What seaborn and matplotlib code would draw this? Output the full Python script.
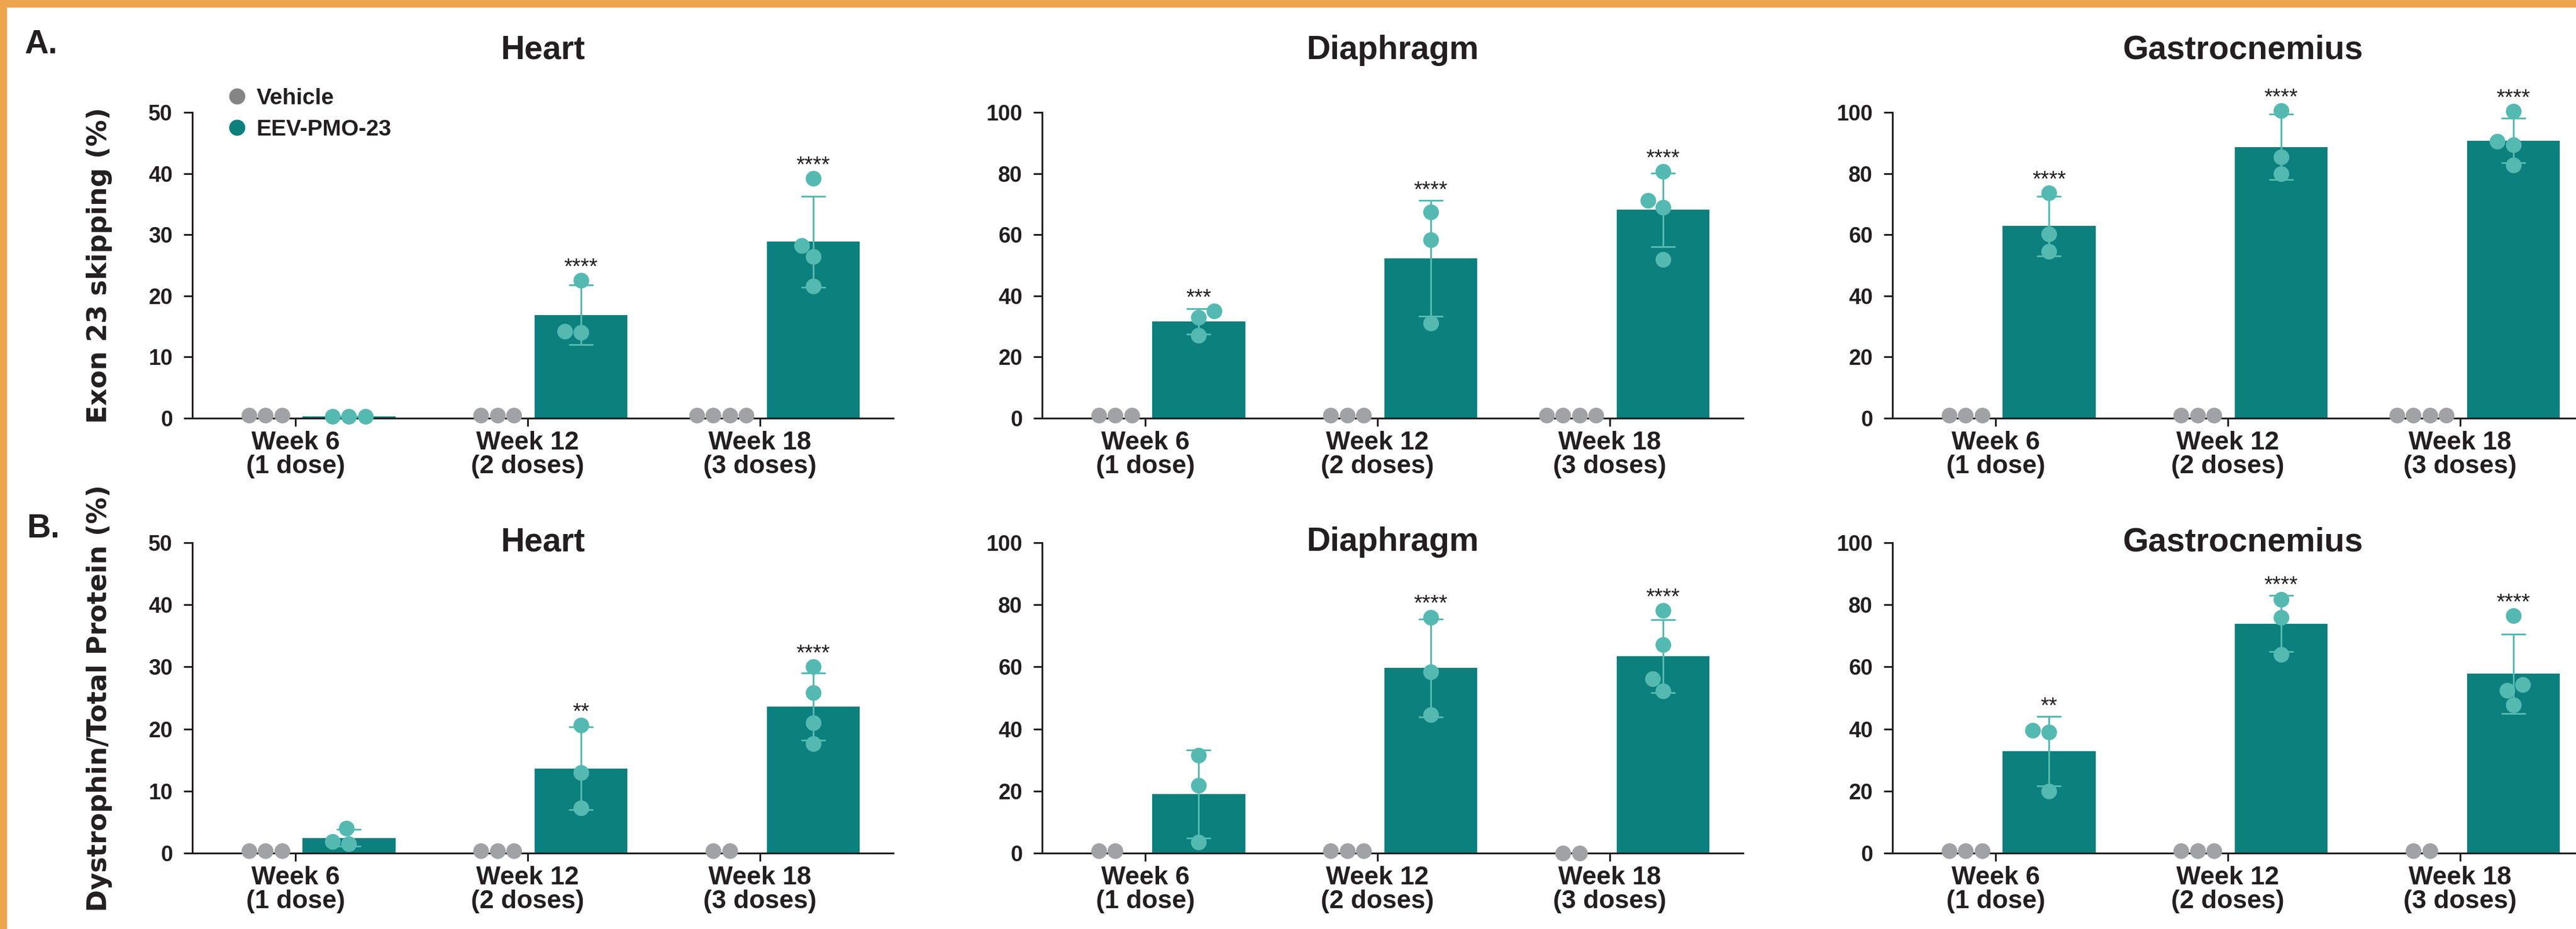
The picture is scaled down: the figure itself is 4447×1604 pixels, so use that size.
import numpy as np
import pandas as pd
import seaborn as sns
import matplotlib.pyplot as plt
from matplotlib.lines import Line2D
from matplotlib.patches import Rectangle

# ==========================================
# DATA
# ==========================================
WEEK_LABELS = ["Week 6\n(1 dose)", "Week 12\n(2 doses)", "Week 18\n(3 doses)"]
TISSUES = ["Heart", "Diaphragm", "Gastrocnemius"]
GROUPS = ["Vehicle", "EEV-PMO-23"]

# A. Exon 23 skipping (%)
A_HEART_VEH = [[0.5, 0.5, 0.5], [0.5, 0.5, 0.5], [0.5, 0.5, 0.5, 0.5]]
A_HEART_EEV = [[0.3, 0.3, 0.3], [22.5, 14.2, 14.0], [39.2, 28.2, 26.4, 21.6]]
A_HEART_SIG = ["", "****", "****"]

A_DIAPH_VEH = [[1.0, 1.0, 1.0], [1.0, 1.0, 1.0], [1.0, 1.0, 1.0, 1.0]]
A_DIAPH_EEV = [[35.0, 33.0, 27.0], [67.5, 58.3, 31.0], [80.6, 71.2, 69.0, 51.8]]
A_DIAPH_SIG = ["***", "****", "****"]

A_GASTRO_VEH = [[1.0, 1.0, 1.0], [1.0, 1.0, 1.0], [1.0, 1.0, 1.0, 1.0]]
A_GASTRO_EEV = [[73.6, 60.2, 54.6], [100.6, 85.4, 80.0], [100.4, 90.6, 89.4, 82.8]]
A_GASTRO_SIG = ["****", "****", "****"]

# B. Dystrophin / total protein (%)
B_HEART_VEH = [[0.4, 0.4, 0.4], [0.4, 0.4, 0.4], [0.4, 0.4]]
B_HEART_EEV = [[4.0, 1.5, 1.9], [20.6, 13.0, 7.3], [30.0, 25.8, 21.0, 17.6]]
B_HEART_SIG = ["", "**", "****"]

B_DIAPH_VEH = [[0.8, 0.8], [0.8, 0.8, 0.8], [0.0, 0.0]]
B_DIAPH_EEV = [[31.6, 21.8, 3.6], [76.0, 58.4, 44.6], [78.2, 67.2, 56.2, 52.2]]
B_DIAPH_SIG = ["", "****", "****"]

B_GASTRO_VEH = [[0.8, 0.8, 0.8], [0.8, 0.8, 0.8], [0.8, 0.8]]
B_GASTRO_EEV = [[39.6, 39.0, 20.0], [81.8, 76.0, 64.0], [76.5, 54.2, 52.5, 47.8]]
B_GASTRO_SIG = ["**", "****", "****"]

Y_MAX_A = [50, 100, 100]
Y_MAX_B = [50, 100, 100]

# ==========================================
# STYLE / LAYOUT
# ==========================================
W, H = 4447, 1604
DARK = "#231F20"
TEAL = "#0B807D"
LIGHT_TEAL = "#54BAB1"
GREY = "#A1A2A6"
LEG_GREY = "#858585"
ORANGE = "#EFA54D"

VEH_OFF = -0.13
EEV_OFF = 0.23
AX_LEFT = [332, 1799, 3267]
AX_W = 1210
ROWS = {"A": (194, 722), "B": (937, 1473)}
TITLE_BASE = {"A": 102, "B": 951}


def build_frame(veh, eev):
    rows = []
    for w in range(3):
        for v in veh[w]:
            rows.append({"week": w, "group": GROUPS[0], "value": v})
        for v in eev[w]:
            rows.append({"week": w, "group": GROUPS[1], "value": v})
    df = pd.DataFrame(rows)
    df["pos"] = df["week"] + np.where(df["group"] == GROUPS[0], VEH_OFF, EEV_OFF)
    return df


PANELS = {
    "A": [(A_HEART_VEH, A_HEART_EEV, A_HEART_SIG),
          (A_DIAPH_VEH, A_DIAPH_EEV, A_DIAPH_SIG),
          (A_GASTRO_VEH, A_GASTRO_EEV, A_GASTRO_SIG)],
    "B": [(B_HEART_VEH, B_HEART_EEV, B_HEART_SIG),
          (B_DIAPH_VEH, B_DIAPH_EEV, B_DIAPH_SIG),
          (B_GASTRO_VEH, B_GASTRO_EEV, B_GASTRO_SIG)],
}
YMAX = {"A": Y_MAX_A, "B": Y_MAX_B}
YLABELS = {"A": "Exon 23 skipping (%)", "B": "Dystrophin/Total Protein (%)"}

sns.set_theme(style="ticks")
plt.rcParams["font.family"] = ["Liberation Sans", "DejaVu Sans"]
plt.rcParams["axes.linewidth"] = 2.2
plt.rcParams["axes.edgecolor"] = DARK
plt.rcParams["text.color"] = DARK

fig = plt.figure(figsize=(W / 100, H / 100), dpi=100)

for row, panels in PANELS.items():
    top, bottom = ROWS[row]
    for j, (veh, eev, sig) in enumerate(panels):
        ax = fig.add_axes([AX_LEFT[j] / W, 1 - bottom / H, AX_W / W, (bottom - top) / H])
        ax.patch.set_alpha(0)
        df = build_frame(veh, eev)
        eev_df = df[df["group"] == GROUPS[1]]
        veh_df = df[df["group"] == GROUPS[0]]

        sns.barplot(data=eev_df, x="pos", y="value", orient="x", native_scale=True,
                    width=0.4, color=TEAL, saturation=1, errorbar="sd", capsize=0.1,
                    err_kws={"color": LIGHT_TEAL, "linewidth": 2.2, "zorder": 3},
                    linewidth=0, ax=ax)
        sns.swarmplot(data=veh_df, x="pos", y="value", orient="x", native_scale=True,
                      color=GREY, size=19.5, linewidth=0, ax=ax, zorder=5,
                      clip_on=False, warn_thresh=1)
        sns.swarmplot(data=eev_df, x="pos", y="value", orient="x", native_scale=True,
                      color=LIGHT_TEAL, size=19.5, linewidth=0, ax=ax, zorder=5,
                      clip_on=False, warn_thresh=1)

        ymax = YMAX[row][j]
        ax.set_xlim(-0.445, 2.575)
        ax.set_ylim(0, ymax)
        ax.set_yticks(np.arange(0, ymax + 1, ymax // 5))
        ax.set_xticks([0, 1, 2])
        ax.set_xticklabels(WEEK_LABELS, fontsize=32, fontweight="bold", linespacing=1.0)
        for lab in ax.get_yticklabels():
            lab.set_fontweight("bold")
            lab.set_fontsize(27)
        ax.tick_params(axis="x", length=10, width=2.2, pad=6, colors=DARK)
        ax.tick_params(axis="y", length=10.5, width=2.2, pad=14, colors=DARK)
        ax.set_xlabel("")
        ax.set_ylabel("")
        sns.despine(ax=ax)

        # significance stars above the highest dot / error cap
        ppu = (bottom - top) / ymax
        for w in range(3):
            if not sig[w]:
                continue
            pts = np.array(eev[w])
            m, s = pts.mean(), pts.std(ddof=1)
            y_star = max(pts.max() + 12 / ppu, m + s + 7 / ppu)
            ax.text(w + EEV_OFF, y_star, sig[w], ha="center", va="baseline",
                    fontsize=27, color=DARK, clip_on=False)

        cx = (AX_LEFT[j] + AX_W / 2) / W
        fig.text(cx, 1 - TITLE_BASE[row] / H, TISSUES[j], ha="center", va="baseline",
                 fontsize=41, fontweight="bold")

    fig.text(172 / W, 1 - (top + bottom) / 2 / H, YLABELS[row], rotation=90,
             ha="center", va="center", fontsize=33, fontweight="bold",
             family=["DejaVu Sans"])

fig.text(43 / W, 1 - 92 / H, "A.", ha="left", va="baseline", fontsize=41, fontweight="bold")
fig.text(46 / W, 1 - 928 / H, "B.", ha="left", va="baseline", fontsize=41, fontweight="bold")

handles = [Line2D([], [], marker="o", linestyle="", markersize=20,
                  markerfacecolor=LEG_GREY, markeredgewidth=0),
           Line2D([], [], marker="o", linestyle="", markersize=20,
                  markerfacecolor=TEAL, markeredgewidth=0)]
fig.legend(handles, GROUPS, loc="upper left", bbox_to_anchor=(393 / W, 1 - 152 / H),
           bbox_transform=fig.transFigure, frameon=False, borderpad=0, borderaxespad=0,
           handlelength=0.8, handletextpad=0.47, labelspacing=0.45,
           prop={"size": 28, "weight": "bold"})

# orange frame
fig.add_artist(Rectangle((0, 1 - 12 / H), 1, 12 / H, transform=fig.transFigure,
                         color=ORANGE, zorder=10))
fig.add_artist(Rectangle((0, 0), 11 / W, 1, transform=fig.transFigure,
                         color=ORANGE, zorder=10))

fig.savefig("out.png", dpi=100)
